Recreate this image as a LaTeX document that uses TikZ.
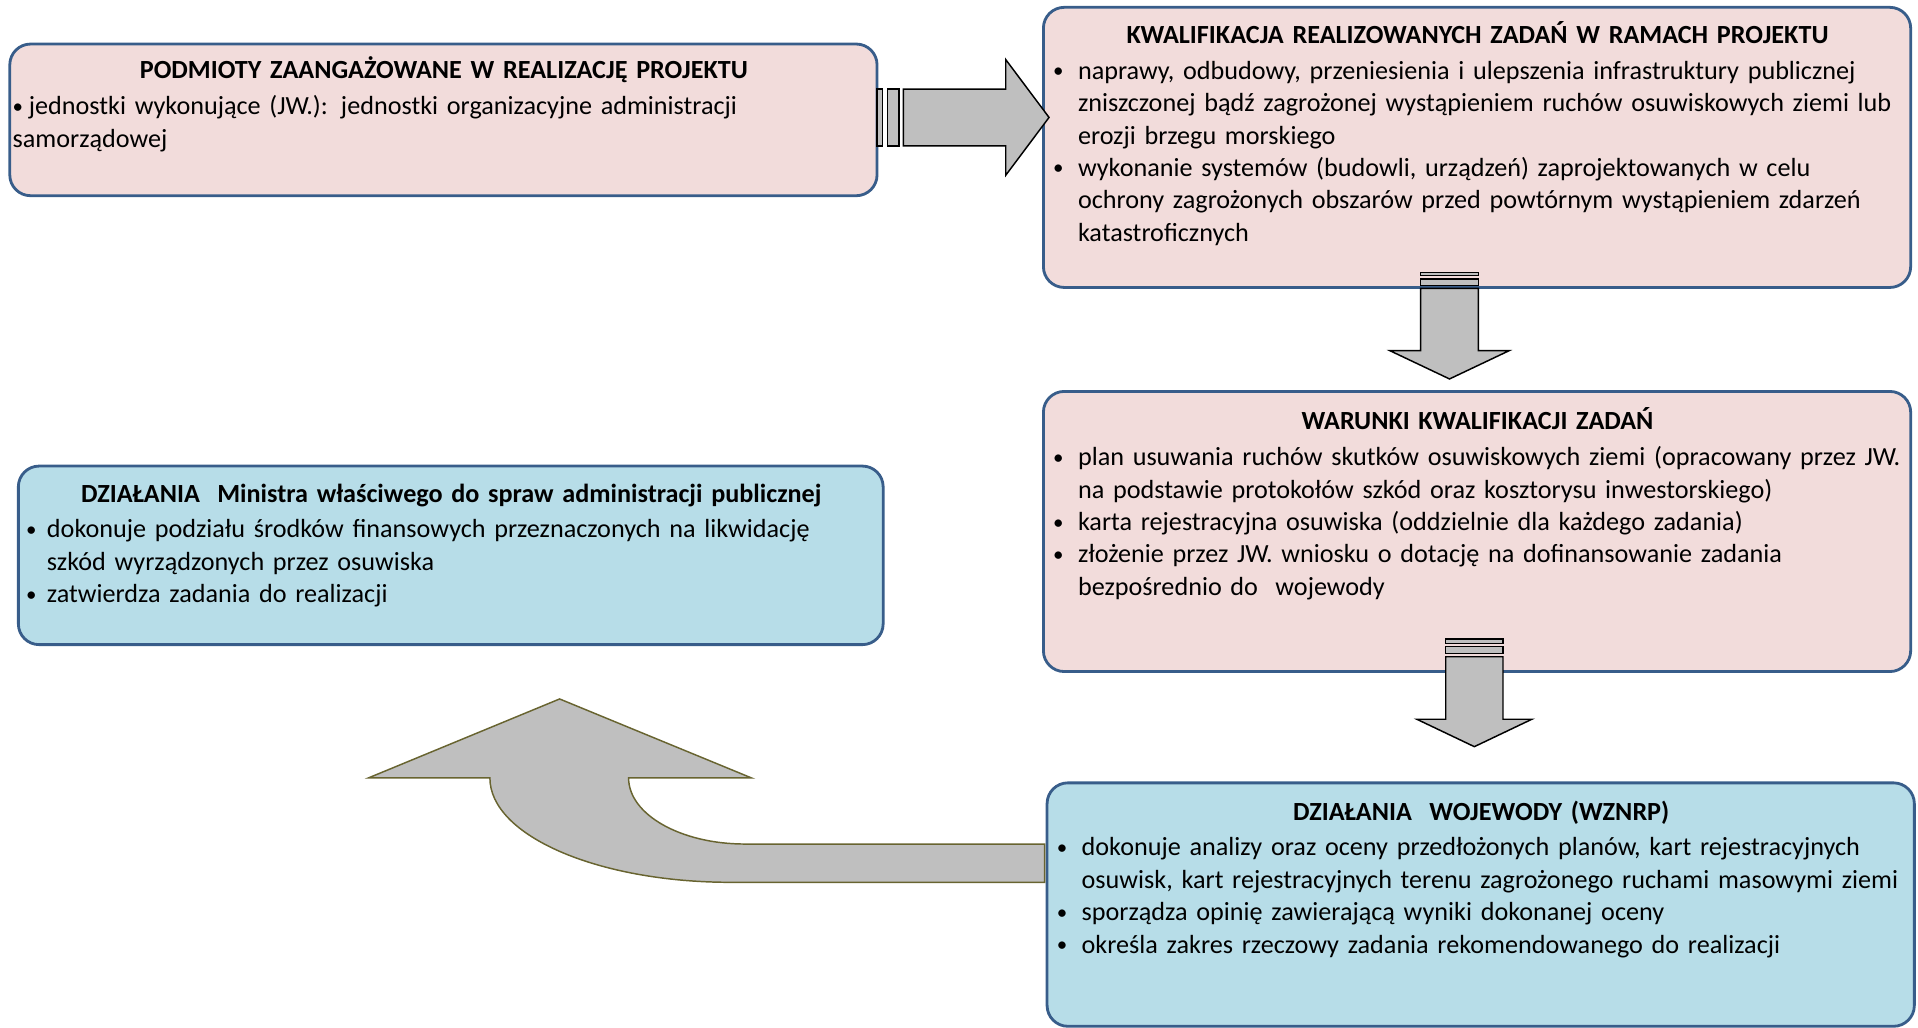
\documentclass[tikz,border=0pt]{standalone}
\usepackage{fontspec}
\setmainfont{Carlito}
\definecolor{ramka}{RGB}{56,93,138}
\definecolor{rozowy}{RGB}{242,220,219}
\definecolor{niebieski}{RGB}{183,221,232}
\definecolor{szary}{RGB}{191,191,191}
\definecolor{oliwka}{RGB}{104,100,48}
\tikzset{pudlo/.style={draw=ramka,line width=1.15pt,rounded corners=8.5pt,anchor=north west,inner sep=0pt,outer sep=0pt},
         rozowe/.style={pudlo,fill=rozowy},
         niebieskie/.style={pudlo,fill=niebieski},
         tekst/.style={anchor=north west,inner sep=0pt,font=\fontsize{10.7pt}{13.25pt}\selectfont,
                       execute at begin node={\raggedright\parindent=0pt}},
         strzalka/.style={fill=szary,draw=black,line width=0.6pt},
         zakret/.style={fill=szary,draw=oliwka,line width=0.6pt}
}
\newcommand{\tytul}[1]{{\centering\bfseries\strut#1\par}\vspace{1.4pt}}
\newcommand{\kropka}{\raisebox{0.12ex}{\scalebox{0.8}{\textbullet}}}
% bullet of width #1, continuation lines indented by #1
\newcommand{\pkt}[1]{\par\noindent\makebox[#1][l]{\kropka}}
\newcommand{\dalej}[1]{\newline\hspace*{#1}}

\begin{document}
\begin{tikzpicture}[x=0.5pt,y=0.5pt,yscale=-1,xscale=1]
\useasboundingbox (0,0) rectangle (1568,840.4);

%Boxes
\node[rozowe,minimum width=354.5pt,minimum height=62pt] (podmioty) at (8,36) {};
\node[rozowe,minimum width=354.5pt,minimum height=114.5pt] (kwalifikacja) at (853,6) {};
\node[rozowe,minimum width=354.5pt,minimum height=114.5pt] (warunki) at (853,320) {};
\node[niebieskie,minimum width=353.5pt,minimum height=73pt] (minister) at (15,381) {};
\node[niebieskie,minimum width=354.5pt,minimum height=99.5pt] (wojewoda) at (856,640) {};

%Right arrow
\coordinate (s1) at ([yshift=-1pt]podmioty.east);
\draw[strzalka] (s1) ++(0,-23.2) rectangle ++(4.4,46.4);
\draw[strzalka] (s1) ++(8.4,-23.2) rectangle ++(9.6,46.4);
\draw[strzalka] (s1) ++(21.5,-23.2) -- ++(83.7,0) -- ++(0,-24.1) -- ++(35.4,47.3) -- ++(-35.4,47.3) -- ++(0,-24.1) -- ++(-83.7,0) -- cycle;

%Down arrow 1
\coordinate (d1) at ([xshift=-11.25pt]kwalifikacja.south);
\draw[strzalka] (d1) ++(-23.6,-12.4) rectangle ++(47.2,2.8);
\draw[strzalka] (d1) ++(-23.6,-6.9) rectangle ++(47.2,5.5);
\draw[strzalka] (d1) ++(-23.6,0.7) -- ++(47.2,0) -- ++(0,51) -- ++(25.1,0) -- ++(-48.7,23.1) -- ++(-48.7,-23.1) -- ++(25.1,0) -- cycle;

%Down arrow 2
\coordinate (d2) at ([xshift=-1.1pt]warunki.south);
\draw[strzalka] (d2) ++(-23.4,-26.6) rectangle ++(46.8,3.5);
\draw[strzalka] (d2) ++(-23.4,-20.3) rectangle ++(46.8,5.4);
\draw[strzalka] (d2) ++(-23.4,-12.1) -- ++(46.8,0) -- ++(0,51.1) -- ++(23.6,0) -- ++(-47,22.4) -- ++(-47,-22.4) -- ++(23.6,0) -- cycle;

%Curved up arrow
\coordinate (k1) at ([shift={(-1pt,25pt)}]wojewoda.north west);
\draw[zakret] (k1) -- ++(-245.1,0) .. controls +(-52.5,0) and +(0,29.8) .. ++(-95,-54)
  -- ++(100.5,0) -- ++(-156.9,-64.6) -- ++(-156.4,64.6) -- ++(99.4,0)
  .. controls +(0,47.1) and +(-108.8,0) .. ++(197,85.3) -- ++(256.5,0) -- cycle;

% Text Node
\node[tekst,text width=352.5pt] (podmioty-txt) at (10,45.5) {%
\tytul{PODMIOTY ZAANGAŻOWANE W REALIZACJĘ PROJEKTU}
\pkt{6.6pt}jednostki wykonujące (JW.): jednostki organizacyjne administracji\newline
samorządowej};
% Text Node
\node[tekst,text width=347pt] (kwalifikacja-txt) at (860.5,16.5) {%
\tytul{KWALIFIKACJA REALIZOWANYCH ZADAŃ W RAMACH PROJEKTU}
\pkt{10.2pt}naprawy, odbudowy, przeniesienia i ulepszenia infrastruktury publicznej
\dalej{10.2pt}zniszczonej bądź zagrożonej wystąpieniem ruchów osuwiskowych ziemi lub
\dalej{10.2pt}erozji brzegu morskiego
\pkt{10.2pt}wykonanie systemów (budowli, urządzeń) zaprojektowanych w celu
\dalej{10.2pt}ochrony zagrożonych obszarów przed powtórnym wystąpieniem zdarzeń
\dalej{10.2pt}katastroficznych};
% Text Node
\node[tekst,text width=347pt] (warunki-txt) at (860.5,332.5) {%
\tytul{WARUNKI KWALIFIKACJI ZADAŃ}
\pkt{10.2pt}plan usuwania ruchów skutków osuwiskowych ziemi (opracowany przez JW.
\dalej{10.2pt}na podstawie protokołów szkód oraz kosztorysu inwestorskiego)
\pkt{10.2pt}karta rejestracyjna osuwiska (oddzielnie dla każdego zadania)
\pkt{10.2pt}złożenie przez JW. wniosku o dotację na dofinansowanie zadania
\dalej{10.2pt}bezpośrednio do\ \ wojewody};
% Text Node
\node[tekst,text width=347.5pt] (minister-txt) at (21,391.5) {%
\tytul{DZIAŁANIA\ \ Ministra właściwego do spraw administracji publicznej}
\pkt{8.5pt}dokonuje podziału środków finansowych przeznaczonych na likwidację
\dalej{8.5pt}szkód wyrządzonych przez osuwiska
\pkt{8.5pt}zatwierdza zadania do realizacji};
% Text Node
\node[tekst,text width=347pt] (wojewoda-txt) at (863.5,651.5) {%
\tytul{DZIAŁANIA\ \ WOJEWODY (WZNRP)}
\pkt{10.2pt}dokonuje analizy oraz oceny przedłożonych planów, kart rejestracyjnych
\dalej{10.2pt}osuwisk, kart rejestracyjnych terenu zagrożonego ruchami masowymi ziemi
\pkt{10.2pt}sporządza opinię zawierającą wyniki dokonanej oceny
\pkt{10.2pt}określa zakres rzeczowy zadania rekomendowanego do realizacji};

\end{tikzpicture}
\end{document}
